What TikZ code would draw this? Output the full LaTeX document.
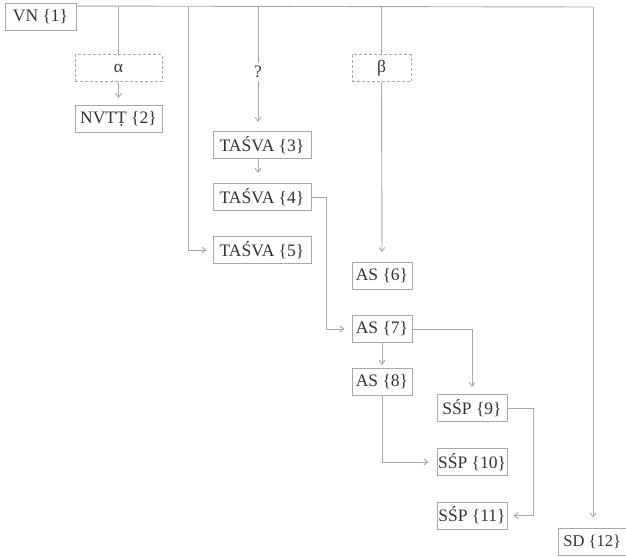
\documentclass[tikz,border=0pt]{standalone}
\usepackage{fontspec}
\setmainfont{Liberation Serif}
\usetikzlibrary{arrows.meta}
\definecolor{linegray}{HTML}{A8A8A8}
\definecolor{textgray}{HTML}{333333}
\begin{document}
\begin{tikzpicture}[x=1pt,y=-1pt,
  box/.style={draw=linegray,line width=0.9pt,inner sep=0pt,minimum height=27pt,
    text=textgray,font=\fontsize{17.5}{19}\selectfont},
  dbox/.style={box,dash pattern=on 3pt off 2pt},
  plain/.style={inner sep=3pt,text=textgray,font=\fontsize{17.5}{19}\selectfont},
  conn/.style={draw=linegray,line width=0.9pt},
  arr/.style={conn,-{Straight Barb[length=4pt,width=6pt]},shorten >=7pt}]
\useasboundingbox (0,0) rectangle (626,557);
% nodes
\node[box,minimum width=71pt] (vn) at (40.5,17) {VN {\{1\}}};
\node[dbox,minimum width=87pt] (alpha) at (118.5,68) {α};
\node[box,minimum width=87pt] (nvt) at (118.5,119) {NVTṬ {\{2\}}};
\node[plain] (q) at (258,72) {?};
\node[dbox,minimum width=59pt] (beta) at (381.5,68) {β};
\node[box,minimum width=98pt] (t3) at (262,145) {TAŚVA {\{3\}}};
\node[box,minimum width=98pt] (t4) at (262,197) {TAŚVA {\{4\}}};
\node[box,minimum width=98pt] (t5) at (262,250) {TAŚVA {\{5\}}};
\node[box,minimum width=60pt] (a6) at (382,276) {AS {\{6\}}};
\node[box,minimum width=60pt] (a7) at (382,329) {AS {\{7\}}};
\node[box,minimum width=60pt] (a8) at (382,382) {AS {\{8\}}};
\node[box,minimum width=70pt] (s9) at (472,408) {SŚP {\{9\}}};
\node[box,minimum width=70pt] (s10) at (472,462) {SŚP {\{10\}}};
\node[box,minimum width=70pt] (s11) at (472,515.5) {SŚP {\{11\}}};
\node[box,anchor=west,inner xsep=5pt,font=\fontsize{16.5}{19}\selectfont] (sd) at (558,541.5) {SD {\{12\}}};
% helper coordinates
\coordinate (tr) at (593,7);
\coordinate (c188) at (188,7);
\coordinate (c258) at (258,7);
\coordinate (c326) at (326,0);
\coordinate (c533) at (533,0);
% trunk
\draw[conn] ([yshift=-3pt]vn.north east) -- (tr);
\draw[arr,shorten >=10pt] (tr) -- (tr |- sd.north);
% branch alpha
\draw[conn] (alpha.north |- tr) -- (alpha.north);
\draw[arr] (alpha.south) -- (nvt.north);
% branch to t5
\draw[arr,shorten >=6pt] (c188) |- (t5.west);
% branch ?
\draw[conn] (c258) -- (q.north);
\draw[arr,shorten >=9pt] (q.south) -- (c258 |- t3.north);
\draw[arr,shorten >=10pt] (c258 |- t3.south) -- (c258 |- t4.north);
% t4 -> a7
\draw[arr] (t4.east) -| (c326 |- a7.west) -- (a7.west);
% branch beta
\draw[conn] (beta.north |- tr) -- (beta.north);
\draw[arr,shorten >=10pt] (beta.south) -- (a6.north);
% a7 -> s9, a8
\draw[arr] (a7.east) -| (s9.north);
\draw[arr,shorten >=3pt] (a7.south) -- (a8.north);
% a8 -> s10
\draw[arr,shorten >=8pt] (a8.south) |- (s10.west);
% s9 -> s11
\draw[arr,shorten >=6pt] (s9.east) -| (c533 |- s11.east) -- (s11.east);
\end{tikzpicture}
\end{document}
